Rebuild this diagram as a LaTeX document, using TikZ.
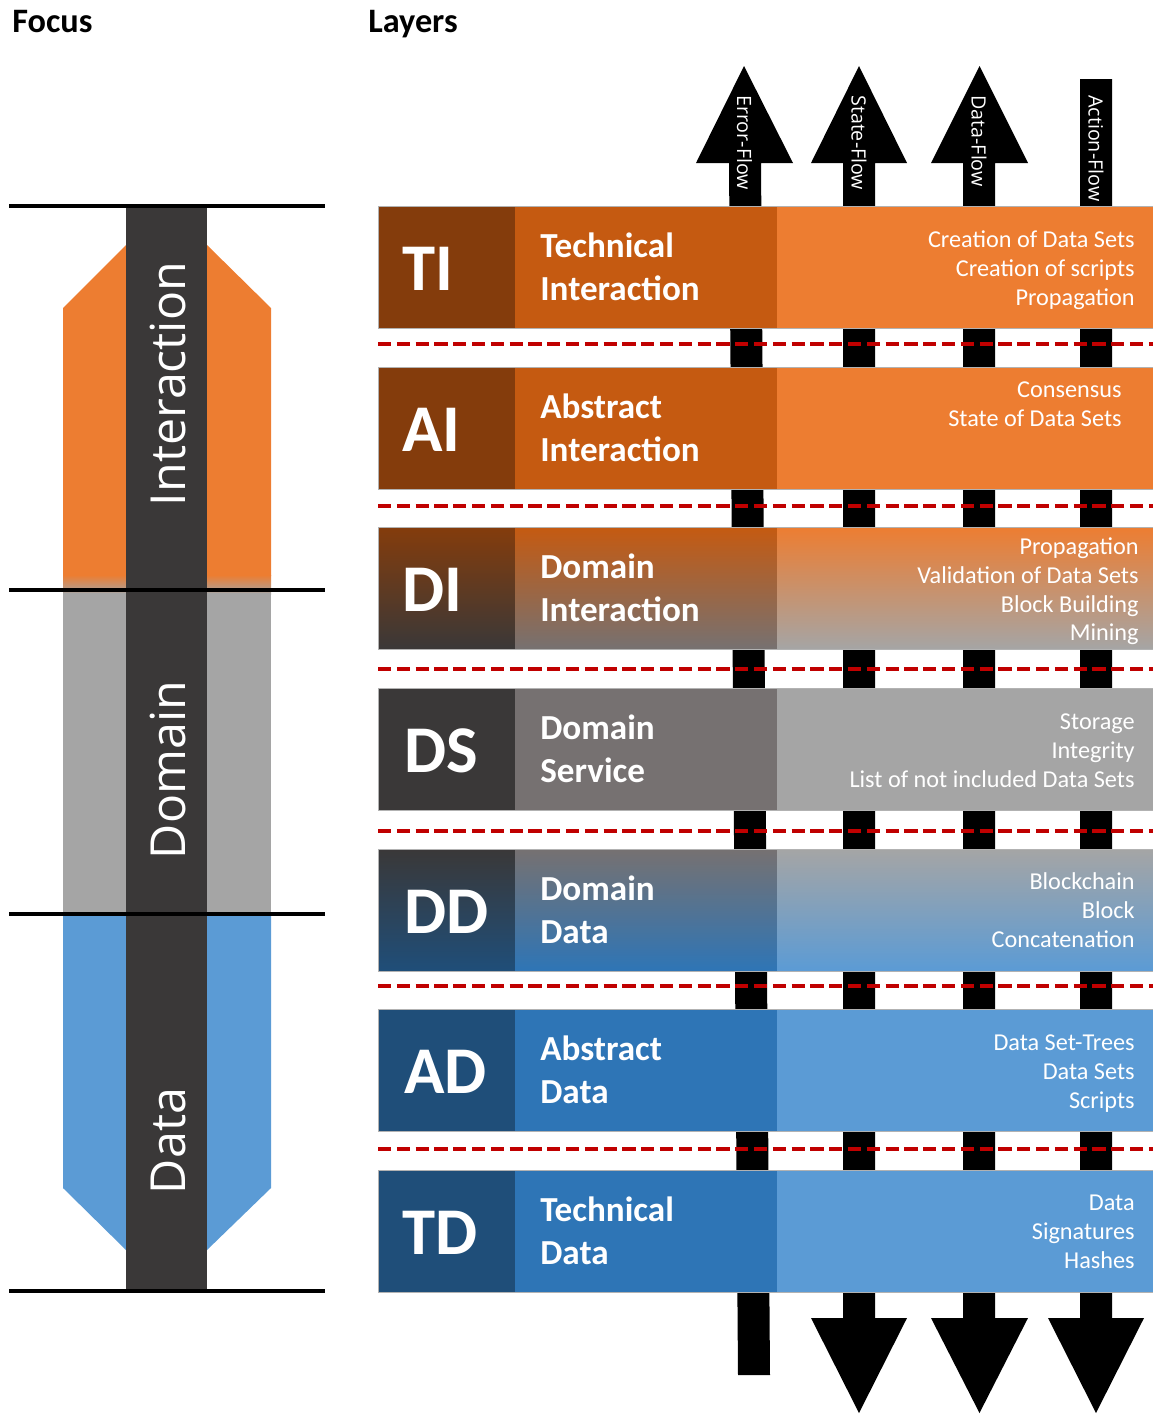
\documentclass[tikz,border=0pt]{standalone}
\usepackage{fontspec}
\setmainfont{Carlito}
\newfontfamily\osans{Open Sans}
\definecolor{oL}{HTML}{ED7D31}
\definecolor{oM}{HTML}{C55A11}
\definecolor{oD}{HTML}{843C0C}
\definecolor{gL}{HTML}{A5A5A5}
\definecolor{gM}{HTML}{767171}
\definecolor{gD}{HTML}{3A3838}
\definecolor{bL}{HTML}{5B9BD5}
\definecolor{bM}{HTML}{2E75B6}
\definecolor{bD}{HTML}{1F4E79}
\definecolor{sepred}{HTML}{C00000}
\newcommand\layerrow[7]{%
  \shade[top color=#2,bottom color=#3] (378,#1) rectangle (515,{#1+122});
  \shade[top color=#4,bottom color=#5] (515,#1) rectangle (777,{#1+122});
  \shade[top color=#6,bottom color=#7] (777,#1) rectangle (1153,{#1+122});
  \draw[rowedge] (378,#1) rectangle (1153,{#1+122});
}
\begin{document}
\begin{tikzpicture}[x=0.02cm,y=-0.02cm,
  rowedge/.style={draw=black!30,line width=0.4pt},
  abbr/.style={anchor=base west,inner sep=0,text=white,font=\bfseries\fontsize{38}{38}\selectfont},
  midtxt/.style={anchor=north west,inner sep=0,text=white,align=left,font=\bfseries\fontsize{20}{24.4}\selectfont},
  rtxt/.style={anchor=north east,inner sep=0,text=white,align=right,font=\fontsize{13.8}{16.4}\selectfont},
  flowlbl/.style={rotate=-90,anchor=west,inner sep=0,text=white,font=\osans\fontsize{11.2}{13}\selectfont},
  focuslbl/.style={rotate=90,inner sep=0,text=white,font=\osans\fontsize{27.5}{32}\selectfont},
  heading/.style={anchor=base west,inner sep=0,font=\bfseries\fontsize{19.5}{22}\selectfont},
  divline/.style={line width=1.8pt},
  sepline/.style={draw=sepred,line width=2pt,dash pattern=on 7.5pt off 3.2pt},
  flowarrow/.style={fill=black}]
\useasboundingbox (0,0) rectangle (1153,1414);

% headings
\node[heading] (hfocus) at (12,32) {Focus};
\node[heading] (hlayers) at (368,32) {Layers};

% ---------- left focus column ----------
\fill[oL] (63,308) -- (126,245) -- (207,245) -- (271,308) -- (271,576) -- (63,576) -- cycle;
\shade[top color=oL,bottom color=gL] (63,575) rectangle (271,594);
\fill[gL] (63,593) rectangle (271,914);
\fill[bL] (63,914) -- (271,914) -- (271,1188) -- (207,1250) -- (126,1250) -- (63,1188) -- cycle;
\fill[gD] (126,206) rectangle (207,1291);
\draw[divline] (9,206) -- (325,206);
\draw[divline] (9,590) -- (325,590);
\draw[divline] (9,914) -- (325,914);
\draw[divline] (9,1291) -- (325,1291);
\node[focuslbl] (finter) at (168.5,384) {Interaction};
\node[focuslbl] (fdomain) at (168.5,770) {Domain};
\node[focuslbl] (fdata) at (168.5,1141) {Data};

% ---------- flow arrows ----------
\fill[flowarrow] (738,1375) -- (770,1375) -- (761,163) -- (793,163) -- (744,66) -- (696,163) -- (729,163) -- cycle;
\fill[flowarrow] (843,163) -- (811,163) -- (859,66) -- (907,163) -- (875,163) -- (875,1318) -- (907,1318) -- (859,1413) -- (811,1318) -- (843,1318) -- cycle;
\fill[flowarrow] (963,163) -- (931,163) -- (979.5,66) -- (1028,163) -- (995,163) -- (995,1318) -- (1028,1318) -- (979.5,1413) -- (931,1318) -- (963,1318) -- cycle;
\fill[flowarrow] (1080,79) -- (1112,79) -- (1112,1318) -- (1144,1318) -- (1096,1413) -- (1048,1318) -- (1080,1318) -- cycle;
\node[flowlbl] (lerr) at (744.5,95) {Error-Flow};
\node[flowlbl] (lstate) at (859,95) {State-Flow};
\node[flowlbl] (ldata) at (979,95) {Data-Flow};
\node[flowlbl] (laction) at (1096,95) {Action-Flow};

% ---------- layer rows ----------
\layerrow{206}{oD}{oD}{oM}{oM}{oL}{oL}
\layerrow{367}{oD}{oD}{oM}{oM}{oL}{oL}
\layerrow{527}{oD}{gD}{oM}{gM}{oL}{gL}
\layerrow{688}{gD}{gD}{gM}{gM}{gL}{gL}
\layerrow{849}{gD}{bD}{gM}{bM}{gL}{bL}
\layerrow{1009}{bD}{bD}{bM}{bM}{bL}{bL}
\layerrow{1170}{bD}{bD}{bM}{bM}{bL}{bL}

% separators
\draw[sepline] (378,344) -- (1153,344);
\draw[sepline] (378,506) -- (1153,506);
\draw[sepline] (378,669) -- (1153,669);
\draw[sepline] (378,831) -- (1153,831);
\draw[sepline] (378,986) -- (1153,986);
\draw[sepline] (378,1149) -- (1153,1149);

% row texts
\node[abbr] (ti) at (402,290) {TI};
\node[midtxt] (tim) at (540,227) {\strut Technical\\Interaction};
\node[rtxt] (tir) at (1135,227) {\strut Creation of Data Sets\\Creation of scripts\\Propagation};

\node[abbr] (ai) at (402,451) {AI};
\node[midtxt] (aim) at (540,388) {\strut Abstract\\Interaction};
\node[rtxt] (air) at (1122,377) {\strut Consensus\\State of Data Sets};

\node[abbr] (di) at (402,611) {DI};
\node[midtxt] (dim) at (540,548) {\strut Domain\\Interaction};
\node[rtxt] (dir) at (1139,534) {\strut Propagation\\Validation of Data Sets\\Block Building\\Mining};

\node[abbr] (ds) at (404,772) {DS};
\node[midtxt] (dsm) at (540,709) {\strut Domain\\Service};
\node[rtxt] (dsr) at (1135,709) {\strut Storage\\Integrity\\List of not included Data Sets};

\node[abbr] (dd) at (404,933) {DD};
\node[midtxt] (ddm) at (540,870) {\strut Domain\\Data};
\node[rtxt] (ddr) at (1135,869) {\strut Blockchain\\Block\\Concatenation};

\node[abbr] (ad) at (404,1093) {AD};
\node[midtxt] (adm) at (540,1030) {\strut Abstract\\Data};
\node[rtxt] (adr) at (1135,1030) {\strut Data Set-Trees\\Data Sets\\Scripts};

\node[abbr] (td) at (402,1254) {TD};
\node[midtxt] (tdm) at (540,1191) {\strut Technical\\Data};
\node[rtxt] (tdr) at (1135,1190) {\strut Data\\Signatures\\Hashes};
\end{tikzpicture}
\end{document}
